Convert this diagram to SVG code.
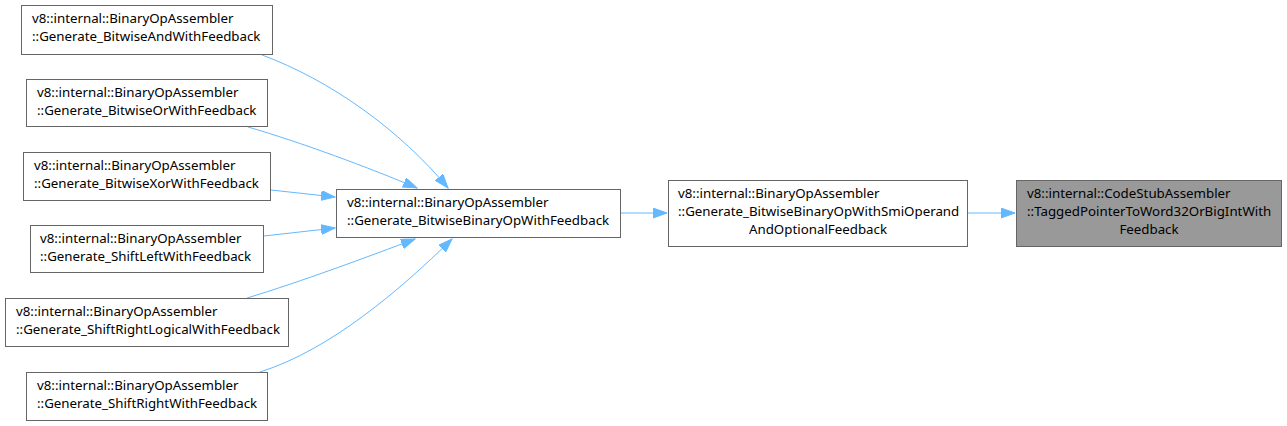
<svg xmlns="http://www.w3.org/2000/svg" width="1287" height="426" viewBox="0 0 1287 426">
<style>
.box{fill:#ffffff;stroke:#666666;stroke-width:1}
.cur{fill:#999999;stroke:#666666;stroke-width:1}
text{font-family:"Noto Sans","Open Sans","DejaVu Sans",sans-serif;font-size:13.3px;fill:#000000}
.m{text-anchor:middle}
.e{fill:none;stroke:#63b8ff;stroke-width:1;marker-end:url(#ah)}
</style>
<defs>
<marker id="ah" markerUnits="userSpaceOnUse" markerWidth="15" markerHeight="11" refX="14" refY="5" orient="auto">
<path d="M0,0 L14,5 L0,10 z" fill="#63b8ff" stroke="#63b8ff" stroke-width="1"/>
</marker>
</defs>
<rect width="1287" height="426" fill="#ffffff"/>
<g id="edges">
<path class="e" d="M262,55 C330,80 400,130 448,188"/>
<path class="e" d="M248,127 C300,142 370,168 417,188"/>
<path class="e" d="M271,190 L335,197"/>
<path class="e" d="M264,236 L335,228"/>
<path class="e" d="M247,298 C300,282 370,256 415,239"/>
<path class="e" d="M260,372 C330,350 400,290 452,239"/>
<path class="e" d="M621,213 L667,213"/>
<path class="e" d="M968,213 L1015,213"/>
</g>
<g id="n_and">
<rect class="box" x="21.5" y="5.5" width="251" height="49"/>
<text x="32" y="23">v8::internal::BinaryOpAssembler</text>
<text x="32" y="41">::Generate_BitwiseAndWithFeedback</text>
</g>
<g id="n_or">
<rect class="box" x="26.5" y="79.5" width="241" height="47"/>
<text x="37" y="97">v8::internal::BinaryOpAssembler</text>
<text x="37" y="115">::Generate_BitwiseOrWithFeedback</text>
</g>
<g id="n_xor">
<rect class="box" x="23.5" y="152.5" width="247" height="48"/>
<text x="34" y="170">v8::internal::BinaryOpAssembler</text>
<text x="34" y="188">::Generate_BitwiseXorWithFeedback</text>
</g>
<g id="n_shl">
<rect class="box" x="30.5" y="225.5" width="233" height="47"/>
<text x="40" y="243">v8::internal::BinaryOpAssembler</text>
<text x="40" y="261">::Generate_ShiftLeftWithFeedback</text>
</g>
<g id="n_shrl">
<rect class="box" x="5.5" y="298.5" width="283" height="48"/>
<text x="16" y="316">v8::internal::BinaryOpAssembler</text>
<text x="16" y="334">::Generate_ShiftRightLogicalWithFeedback</text>
</g>
<g id="n_shr">
<rect class="box" x="26.5" y="372.5" width="241" height="48"/>
<text x="37" y="390">v8::internal::BinaryOpAssembler</text>
<text x="37" y="408">::Generate_ShiftRightWithFeedback</text>
</g>
<g id="n_central">
<rect class="box" x="336.5" y="189.5" width="284" height="48"/>
<text x="347" y="207">v8::internal::BinaryOpAssembler</text>
<text x="347" y="225">::Generate_BitwiseBinaryOpWithFeedback</text>
</g>
<g id="n_smi">
<rect class="box" x="668.5" y="180.5" width="299" height="66"/>
<text x="678" y="198">v8::internal::BinaryOpAssembler</text>
<text x="678" y="216">::Generate_BitwiseBinaryOpWithSmiOperand</text>
<text class="m" x="818" y="234">AndOptionalFeedback</text>
</g>
<g id="n_target">
<rect class="cur" x="1016.5" y="180.5" width="265" height="66"/>
<text x="1027" y="198">v8::internal::CodeStubAssembler</text>
<text x="1027" y="216">::TaggedPointerToWord32OrBigIntWith</text>
<text class="m" x="1149" y="234">Feedback</text>
</g>
</svg>
